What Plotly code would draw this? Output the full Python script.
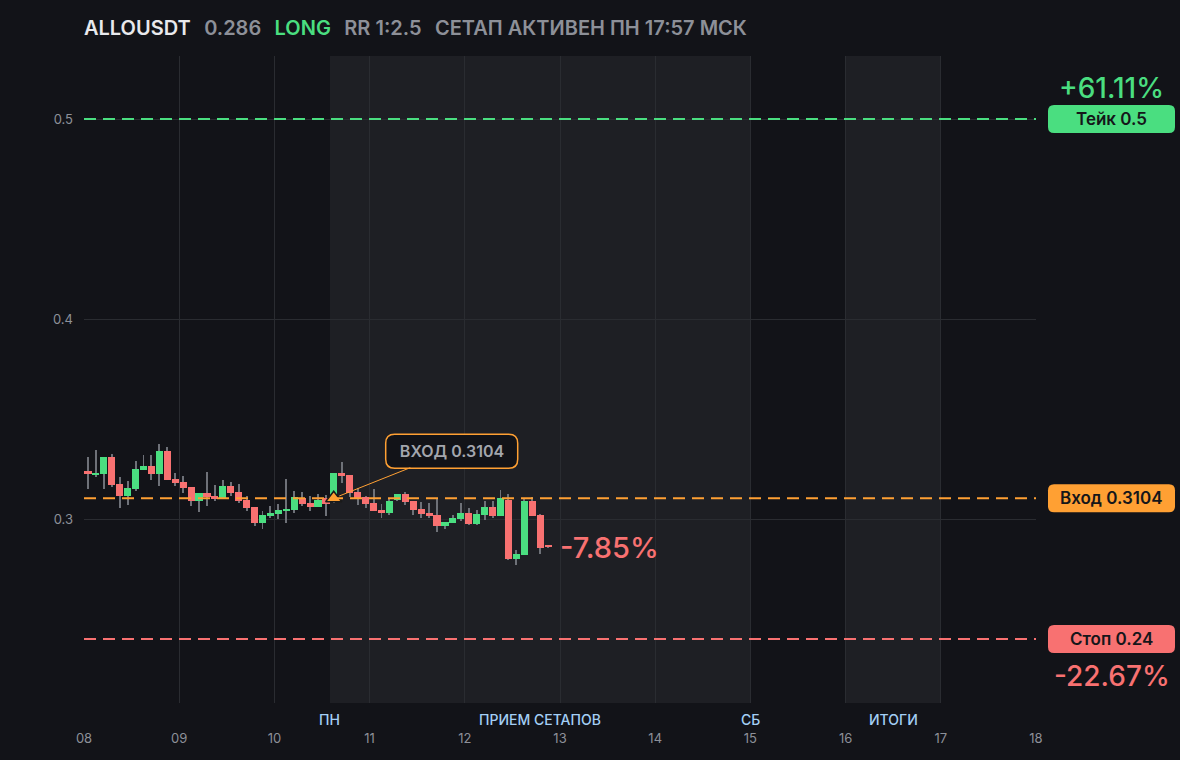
import pandas as pd
import plotly.graph_objects as go

# 2h candles, ALLOUSDT
times = pd.date_range("2025-03-08 01:00", periods=59, freq="2h")

opens = [0.324, 0.3218, 0.3227, 0.331, 0.3175, 0.3115, 0.315, 0.3245, 0.3265, 0.3227,
         0.334, 0.32, 0.3185, 0.316, 0.3092, 0.313, 0.3115, 0.31, 0.3165, 0.3135,
         0.3095, 0.306, 0.298, 0.3015, 0.3025, 0.304, 0.3045, 0.3105, 0.308, 0.306,
         0.3105, 0.3103, 0.323, 0.322, 0.3135, 0.311, 0.308, 0.3045, 0.303, 0.3095,
         0.3125, 0.309, 0.305, 0.303, 0.302, 0.2965, 0.2982, 0.3002, 0.303, 0.2977,
         0.302, 0.306, 0.3015, 0.3095, 0.28, 0.282, 0.309, 0.302, 0.2866]
highs = [0.3312, 0.3345, 0.3312, 0.3325, 0.321, 0.319, 0.329, 0.332, 0.332, 0.3375,
         0.336, 0.3232, 0.3215, 0.316, 0.313, 0.3235, 0.317, 0.3195, 0.3187, 0.3175,
         0.3115, 0.306, 0.304, 0.3065, 0.3075, 0.32, 0.314, 0.3135, 0.3115, 0.3125,
         0.3118, 0.323, 0.3285, 0.322, 0.3155, 0.3113, 0.315, 0.3075, 0.31, 0.3125,
         0.3135, 0.309, 0.3085, 0.308, 0.31, 0.2985, 0.302, 0.308, 0.3055, 0.3047,
         0.309, 0.309, 0.3145, 0.3125, 0.2845, 0.31, 0.311, 0.3025, 0.2868]
lows = [0.315, 0.3212, 0.315, 0.3162, 0.3055, 0.307, 0.3142, 0.3245, 0.3195, 0.3165,
        0.3195, 0.3165, 0.3132, 0.3067, 0.3037, 0.3067, 0.3092, 0.31, 0.3117, 0.3082,
        0.304, 0.2965, 0.295, 0.3007, 0.3, 0.298, 0.303, 0.3065, 0.304, 0.306,
        0.3015, 0.3078, 0.318, 0.3112, 0.307, 0.3055, 0.304, 0.3007, 0.302, 0.309,
        0.307, 0.302, 0.3005, 0.3005, 0.2935, 0.295, 0.2982, 0.2992, 0.297, 0.297,
        0.2995, 0.3005, 0.3015, 0.2795, 0.277, 0.282, 0.3015, 0.2825, 0.2855]
closes = [0.3227, 0.3232, 0.331, 0.317, 0.3115, 0.3155, 0.325, 0.3265, 0.3227, 0.334,
          0.3197, 0.3182, 0.3157, 0.3092, 0.313, 0.3112, 0.31, 0.3165, 0.313, 0.3092,
          0.3055, 0.298, 0.302, 0.303, 0.3045, 0.305, 0.311, 0.3075, 0.306, 0.3095,
          0.3075, 0.323, 0.3217, 0.313, 0.31, 0.3075, 0.304, 0.303, 0.309, 0.3125,
          0.3085, 0.3045, 0.3025, 0.3015, 0.2965, 0.2985, 0.3005, 0.303, 0.2977, 0.3025,
          0.306, 0.3015, 0.3105, 0.28, 0.2825, 0.309, 0.3015, 0.2855, 0.286]

entry_price = 0.3104
take_price = 0.5
stop_price = 0.24
entry_time = "2025-03-10 14:57"

day_labels = ["ПН", "ПРИЕМ СЕТАПОВ", "СБ", "ИТОГИ"]
day_label_times = ["2025-03-10 14:00", "2025-03-12 19:00", "2025-03-15 00:00", "2025-03-16 12:00"]
shade_ranges = [("2025-03-10 14:00", "2025-03-15 00:00"), ("2025-03-16 00:00", "2025-03-17 00:00")]

BG = "#121318"
SHADE = "#1e1f24"
GRID = "#2a2c31"
GREEN = "#4ade80"
RED = "#f87171"
ORANGE = "#ffa033"
GRAY = "#8d9098"

body_base = [min(o, c) for o, c in zip(opens, closes)]
body_h = [max(abs(c - o), 0.0006) for o, c in zip(opens, closes)]
body_col = [GREEN if c >= o else RED for o, c in zip(opens, closes)]

fig = go.Figure()
# wicks
fig.add_trace(go.Bar(x=times, base=lows, y=[h - l for h, l in zip(highs, lows)],
                     width=900000, marker=dict(color="#6e7178", line_width=0),
                     hoverinfo="skip"))
# bodies
fig.add_trace(go.Bar(x=times, base=body_base, y=body_h, width=6500000,
                     marker=dict(color=body_col, line_width=0), hoverinfo="skip"))
# entry marker
fig.add_trace(go.Scatter(x=[entry_time], y=[entry_price], mode="markers",
                         marker=dict(symbol="triangle-up", size=14, color=ORANGE,
                                     line=dict(color="#1a1a1a", width=1.5)),
                         hoverinfo="skip"))

for x0, x1 in shade_ranges:
    fig.add_shape(type="rect", xref="x", yref="paper", x0=x0, x1=x1, y0=0, y1=1,
                  fillcolor=SHADE, line_width=0, layer="below")

for price, col in [(take_price, GREEN), (entry_price, ORANGE), (stop_price, RED)]:
    fig.add_shape(type="line", xref="paper", yref="y", x0=0, x1=1, y0=price, y1=price,
                  line=dict(color=col, width=2, dash="12px,7px"), layer="above")


def rounded(x0, y0, x1, y1, r):
    return (f"M {x0+r},{y0} L {x1-r},{y0} Q {x1},{y0} {x1},{y0+r} "
            f"L {x1},{y1-r} Q {x1},{y1} {x1-r},{y1} L {x0+r},{y1} "
            f"Q {x0},{y1} {x0},{y1-r} L {x0},{y0+r} Q {x0},{y0} {x0+r},{y0} Z")


# right side price tags
tags = [(take_price, GREEN, "Тейк 0.5"), (entry_price, ORANGE, "Вход 0.3104"),
        (stop_price, RED, "Стоп 0.24")]
for price, col, txt in tags:
    fig.add_shape(type="path", xref="paper", yref="y", xsizemode="pixel", ysizemode="pixel",
                  xanchor=1, yanchor=price, path=rounded(12, -14, 139, 14, 6),
                  fillcolor=col, line_width=0, layer="above")
    fig.add_annotation(xref="paper", yref="y", x=1, y=price, xshift=75.5, xanchor="center",
                       text=txt, showarrow=False,
                       font=dict(family="Inter", size=17, color="#15161a", weight=600))

fig.add_annotation(xref="paper", yref="y", x=1, y=take_price, xshift=75.5, yshift=31,
                   xanchor="center", text="+61.11%", showarrow=False,
                   font=dict(family="Inter", size=28, color=GREEN, weight=500))
fig.add_annotation(xref="paper", yref="y", x=1, y=stop_price, xshift=75.5, yshift=-37,
                   xanchor="center", text="-22.67%", showarrow=False,
                   font=dict(family="Inter", size=28, color=RED, weight=500))
fig.add_annotation(x=times[-1], y=closes[-1], xanchor="left", xshift=10,
                   text="-7.85%", showarrow=False,
                   font=dict(family="Inter", size=29, color=RED, weight=500))

# entry callout
fig.add_shape(type="path", xref="x", yref="y", xsizemode="pixel", ysizemode="pixel",
              xanchor=entry_time, yanchor=entry_price,
              path=rounded(52, 30, 184, 64, 9), fillcolor=BG,
              line=dict(color=ORANGE, width=1.5), layer="above")
fig.add_annotation(x=entry_time, y=entry_price, ax=118, ay=-47, text="ВХОД 0.3104",
                   showarrow=True, arrowhead=0, arrowwidth=1, arrowcolor=ORANGE,
                   standoff=6, width=130, height=32, borderpad=0,
                   font=dict(family="Inter", size=16, color="#a3a6ad", weight=600))

for lbl, t in zip(day_labels, day_label_times):
    fig.add_annotation(x=t, xref="x", yref="paper", y=0, yanchor="top", yshift=-6,
                       text=lbl, showarrow=False,
                       font=dict(family="Inter", size=14, color="#a3cff5", weight=500))

sep = "&nbsp;&nbsp;&#8198;"
header = (f"<span style='color:#e8e9ec'>ALLOUSDT</span>{sep}"
          f"<span style='color:{GRAY}'>0.286</span>{sep}"
          f"<span style='color:{GREEN}'>LONG</span>{sep}"
          f"<span style='color:{GRAY}'>RR 1:2.5</span>{sep}"
          f"<span style='color:{GRAY}'>СЕТАП АКТИВЕН ПН 17:57 МСК</span>")
fig.add_annotation(xref="paper", yref="paper", x=0, y=1, xanchor="left", yanchor="middle",
                   yshift=28, xshift=-2, text=header, showarrow=False,
                   font=dict(family="Inter", size=20, weight=600))

fig.update_layout(
    width=1180, height=760,
    margin=dict(l=84, r=144, t=56, b=57),
    paper_bgcolor=BG, plot_bgcolor=BG,
    barmode="overlay", showlegend=False, bargap=0,
    font=dict(family="Inter", color=GRAY, size=13),
    xaxis=dict(range=["2025-03-08", "2025-03-18"], type="date", dtick=86400000,
               tickformat="%d", showgrid=True, gridcolor=GRID, gridwidth=1,
               zeroline=False, showline=False, ticklabelstandoff=26,
               tickfont=dict(color=GRAY, size=13)),
    yaxis=dict(range=[0.208, 0.5315], tickvals=[0.3, 0.4, 0.5], ticktext=["0.3", "0.4", "0.5"],
               showgrid=True, gridcolor=GRID, gridwidth=1, zeroline=False, showline=False,
               ticklabelstandoff=10, tickfont=dict(color=GRAY, size=13)),
)

fig.write_html("out.html", config={"displayModeBar": False}, post_script=(
    "document.body.style.margin='0';document.body.style.background='#121318';"
    "document.body.style.overflow='hidden';"))
